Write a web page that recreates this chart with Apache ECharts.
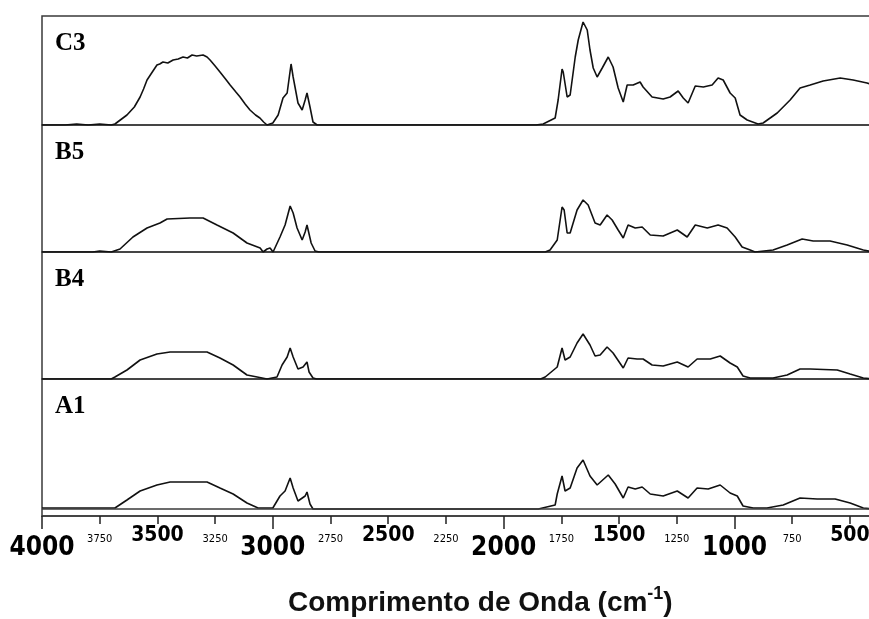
<!DOCTYPE html>
<html>
<head>
    <meta charset="utf-8">
    <script src="https://cdn.jsdelivr.net/npm/echarts@6/dist/echarts.min.js"></script>
</head>
<style>
    *{
        margin:0;
        padding:0;
    }
    body{
        background:#fff;
    }
</style>
<body>
<div id="main" style="width:869px;height:619px;"></div>
<script type="text/javascript">
    // espectros FTIR: [numero de onda, absorbancia (u.a.)]
    var c3 = [[4000,0],[3900,0],[3850,1],[3800,0],[3750,1],[3700,0],[3684,1],[3632,10],[3600,18],[3575,28],[3560,36],[3545,45],[3525,52],[3502,60],[3490,61],[3476,63],[3455,62],[3432,65],[3410,66],[3389,68],[3370,67],[3350,70],[3330,69],[3302,70],[3285,68],[3272,65],[3250,59],[3229,53],[3205,46],[3185,40],[3160,33],[3142,28],[3120,21],[3099,15],[3075,10],[3056,7],[3040,3],[3025,0],[3000,2],[2977,10],[2956,27],[2938,32],[2921,61],[2912,48],[2891,22],[2873,15],[2860,25],[2852,32],[2839,18],[2826,3],[2808,0],[1860,0],[1829,1],[1777,7],[1764,25],[1747,56],[1742,53],[1725,28],[1712,30],[1690,68],[1677,85],[1656,103],[1638,95],[1626,75],[1612,57],[1595,48],[1573,57],[1547,68],[1526,58],[1504,37],[1482,23],[1465,40],[1439,40],[1409,43],[1396,38],[1357,28],[1309,26],[1279,28],[1244,34],[1222,27],[1201,22],[1170,39],[1135,38],[1097,40],[1071,47],[1049,45],[1019,32],[997,27],[976,10],[945,5],[898,1],[876,2],[815,12],[759,25],[716,37],[672,40],[616,44],[542,47],[486,45],[426,42],[400,40]];
    var b5 = [[4000,0],[3780,0],[3750,1],[3700,0],[3662,3],[3606,15],[3545,24],[3489,29],[3458,33],[3359,34],[3302,34],[3242,27],[3172,19],[3112,9],[3055,4],[3042,0],[3025,3],[3012,4],[2999,0],[2969,15],[2947,27],[2925,46],[2912,39],[2895,24],[2873,12],[2860,20],[2852,27],[2834,9],[2817,1],[2800,0],[1820,0],[1799,2],[1768,12],[1747,45],[1738,42],[1725,19],[1712,19],[1682,42],[1656,52],[1634,47],[1604,29],[1582,27],[1552,37],[1530,32],[1504,22],[1482,14],[1461,27],[1430,24],[1400,25],[1365,17],[1309,16],[1248,22],[1205,15],[1170,27],[1118,24],[1071,27],[1032,24],[997,15],[967,5],[932,2],[911,0],[833,2],[772,7],[707,13],[659,11],[586,11],[512,7],[442,2],[400,0]];
    var b4 = [[4000,0],[3700,0],[3684,2],[3632,9],[3575,19],[3502,25],[3445,27],[3285,27],[3229,21],[3172,14],[3112,4],[3068,2],[3025,0],[2982,2],[2960,14],[2938,22],[2925,31],[2912,22],[2891,10],[2869,12],[2852,17],[2843,7],[2826,1],[2810,0],[1840,0],[1820,2],[1768,12],[1747,31],[1734,19],[1712,22],[1682,36],[1656,45],[1626,34],[1604,23],[1582,24],[1552,32],[1526,26],[1482,11],[1461,21],[1422,20],[1396,20],[1357,14],[1309,13],[1248,17],[1201,12],[1162,20],[1105,20],[1062,23],[1019,16],[988,12],[963,3],[932,1],[833,1],[772,4],[716,10],[672,10],[555,9],[499,5],[442,1],[400,0]];
    var a1 = [[4000,1],[3850,1],[3700,1],[3684,1],[3632,9],[3575,18],[3502,24],[3445,27],[3285,27],[3229,21],[3172,15],[3112,6],[3064,1],[3000,1],[2969,13],[2947,18],[2925,31],[2912,21],[2891,8],[2860,13],[2852,17],[2839,5],[2826,0],[1850,0],[1842,1],[1777,4],[1768,15],[1747,33],[1734,18],[1712,21],[1682,41],[1656,49],[1626,33],[1595,24],[1547,34],[1517,25],[1482,11],[1461,22],[1430,20],[1400,22],[1365,15],[1309,13],[1248,18],[1201,11],[1162,21],[1114,20],[1062,24],[1019,16],[988,13],[963,3],[919,1],[859,1],[789,4],[716,11],[642,10],[564,10],[499,6],[442,1],[400,0]];

    var amostras = ['C3', 'B5', 'B4', 'A1'];
    var espectros = [c3, b5, b4, a1];

    var ticksGrandes = [4000, 3000, 2000, 1000];
    var ticksPequenos = [3750, 3500, 3250, 2750, 2500, 2250, 1750, 1500, 1250, 750, 500];
    var rotulos = [4000, 3750, 3500, 3250, 3000, 2750, 2500, 2250, 2000, 1750, 1500, 1250, 1000, 750, 500];

    var cor = '#111';
    var borda = '#3a3a3a';
    var fonteEstreita = '"Liberation Sans Narrow", "DejaVu Sans Condensed", "Arial Narrow", sans-serif';

    // posicao dos paineis (px)
    var paineis = [
        {top: 16, height: 109, min: 0, max: 109},
        {top: 125, height: 127, min: 0, max: 127},
        {top: 252, height: 127, min: 0, max: 127},
        {top: 379, height: 137, min: -7, max: 130}
    ];

    var grid = [], xAxis = [], yAxis = [], series = [], graphic = [];
    for (var i = 0; i < paineis.length; i++) {
        var p = paineis[i];
        grid.push({left: 42, right: -4, top: p.top, height: p.height,
            outerBoundsMode: 'none', containLabel: false,
            show: true, borderColor: borda, borderWidth: 1.5, backgroundColor: 'transparent'});
        xAxis.push({type: 'value', gridIndex: i, min: 400, max: 4000, inverse: true, show: false});
        yAxis.push({type: 'value', gridIndex: i, min: p.min, max: p.max, show: false});
        var s = {
            name: amostras[i], type: 'line', xAxisIndex: i, yAxisIndex: i,
            data: espectros[i], showSymbol: false, symbol: 'none',
            lineStyle: {color: cor, width: 1.6}, animation: false
        };
        if (p.min < 0) {
            s.markLine = {symbol: 'none', silent: true, label: {show: false},
                lineStyle: {color: borda, width: 1.5, type: 'solid'}, data: [{yAxis: 0}]};
        }
        series.push(s);
        graphic.push({type: 'text', left: 55, top: p.top + 15,
            style: {text: amostras[i], fill: '#000', font: 'bold 25px "Liberation Serif", "Times New Roman", serif'}});
    }

    // eixo inferior com rotulos
    xAxis.push({
        type: 'value', gridIndex: 3, min: 400, max: 4000, inverse: true, position: 'bottom',
        axisLine: {show: true, lineStyle: {color: borda, width: 1.5}},
        axisTick: {show: true, length: 13, customValues: ticksGrandes, lineStyle: {color: '#222', width: 1.5}},
        splitLine: {show: false},
        axisLabel: {
            show: true, margin: 14, customValues: rotulos, color: '#000', hideOverlap: false,
            formatter: function (v) {
                if (v % 1000 === 0) return '{g|' + v + '}';
                if (v % 500 === 0) return '{m|' + v + '}';
                return '{p|' + v + '}';
            },
            rich: {
                g: {fontFamily: fonteEstreita, fontWeight: 'bold', fontSize: 26, lineHeight: 36, color: '#000'},
                m: {fontFamily: fonteEstreita, fontWeight: 'bold', fontSize: 21, lineHeight: 12, color: '#000'},
                p: {fontFamily: fonteEstreita, fontSize: 11, lineHeight: 18, color: '#000'}
            }
        }
    });
    xAxis.push({
        type: 'value', gridIndex: 3, min: 400, max: 4000, inverse: true, position: 'bottom',
        axisLine: {show: false},
        axisTick: {show: true, length: 8, customValues: ticksPequenos, lineStyle: {color: '#222', width: 1.5}},
        splitLine: {show: false},
        axisLabel: {show: false}
    });

    var dom = document.getElementById('main');
    var myChart = echarts.init(dom);

    var option = {
        backgroundColor: '#fff',
        animation: false,
        title: {
            text: '{a|Comprimento de Onda (cm}{s|-1}{a|)}',
            left: 283, top: 580,
            textStyle: {
                rich: {
                    a: {fontFamily: '"Liberation Sans", Arial, sans-serif', fontWeight: 'bold', fontSize: 28, lineHeight: 36, color: '#111'},
                    s: {fontFamily: '"Liberation Sans", Arial, sans-serif', fontWeight: 'bold', fontSize: 18, lineHeight: 20, verticalAlign: 'top', color: '#111'}
                }
            }
        },
        grid: grid,
        xAxis: xAxis,
        yAxis: yAxis,
        graphic: graphic,
        series: series
    };

    myChart.setOption(option);
</script>
</body>
</html>
